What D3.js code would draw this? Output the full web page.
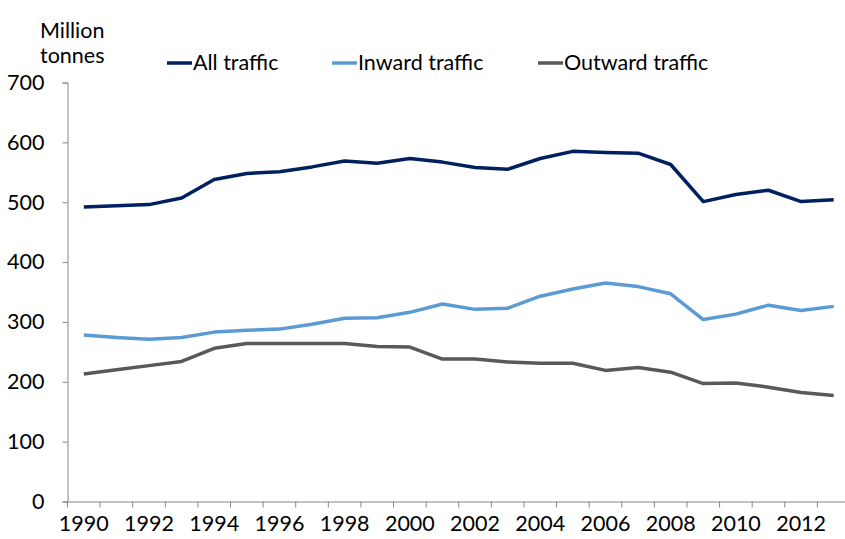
<!DOCTYPE html>
<html>
<head>
<meta charset="utf-8">
<script src="https://cdn.jsdelivr.net/npm/d3@7"></script>
<style>
  body { margin: 0; background: #fff; }
  #chart { width: 845px; height: 539px; }
  text { font-family: Lato, "Open Sans", sans-serif; fill: #000; }
</style>
</head>
<body>
<div id="chart"></div>
<script>
// years 1990-2013, million tonnes
const years = d3.range(1990, 2014);
const allTraffic = [492, 494, 496, 507, 538, 548, 551, 559, 569, 565, 573, 567,
                    558, 555, 573, 585, 583, 582, 563, 501, 513, 520, 501, 504];
const inwardTraffic = [278, 274, 271, 274, 283, 286, 288, 296, 306, 307, 316, 330,
                       321, 323, 343, 355, 365, 359, 347, 304, 313, 328, 319, 326];
const outwardTraffic = [213, 220, 227, 234, 256, 264, 264, 264, 264, 259, 258, 238,
                        238, 233, 231, 231, 219, 224, 216, 197, 198, 191, 182, 177];
const yTicks = [0, 100, 200, 300, 400, 500, 600, 700];

const series = [
    { name: "All traffic", values: allTraffic, color: "#002060", lx: 167 },
    { name: "Inward traffic", values: inwardTraffic, color: "#5b9bd5", lx: 332 },
    { name: "Outward traffic", values: outwardTraffic, color: "#595959", lx: 538 }
];

const width = 845, height = 539;
const fontSize = "21.5px";
const svg = d3.select("#chart").append("svg")
    .attr("width", width)
    .attr("height", height);

// plot area runs a bit past the right edge, like the original
const x = d3.scaleBand().domain(years).range([67.5, 850]);
const y = d3.scaleLinear().domain([0, 700]).range([501.5, 82.5]);
const cx = function(d) { return x(d) + x.bandwidth() / 2; };

const axisColor = "#868686";

// y axis
const yAxis = svg.append("g")
    .attr("transform", "translate(67.5,0)")
    .call(d3.axisLeft(y).tickValues(yTicks).tickSize(5).tickPadding(18));
yAxis.select(".domain").attr("stroke", axisColor);
yAxis.selectAll(".tick line").attr("stroke", axisColor);
yAxis.selectAll("text").attr("font-size", fontSize).attr("fill", "#000")
    .attr("font-family", "Lato");

// x axis: ticks between categories, labels every other year
const xAxis = svg.append("g")
    .attr("transform", "translate(0,501.5)")
    .call(d3.axisBottom(x)
        .tickValues(years.filter(function(d) { return d % 2 === 0; }))
        .tickSize(0).tickPadding(14));
xAxis.select(".domain").attr("stroke", axisColor);
xAxis.selectAll("text").attr("font-size", fontSize).attr("fill", "#000")
    .attr("font-family", "Lato");

svg.append("g").selectAll("line")
    .data(years.concat([null]))
    .enter()
    .append("line")
        .attr("x1", function(d, i) { return 67.5 + i * x.step(); })
        .attr("x2", function(d, i) { return 67.5 + i * x.step(); })
        .attr("y1", 501.5)
        .attr("y2", 507.5)
        .attr("stroke", axisColor);

// lines
const line = d3.line()
    .x(function(d, i) { return cx(years[i]); })
    .y(function(d) { return y(d); });

svg.append("g").selectAll("path")
    .data(series)
    .enter()
    .append("path")
        .attr("d", function(d) { return line(d.values); })
        .attr("fill", "none")
        .attr("stroke", function(d) { return d.color; })
        .attr("stroke-width", 3.5)
        .attr("stroke-linejoin", "round");

// axis title
svg.append("text").attr("x", 40).attr("y", 38).attr("font-size", fontSize).text("Million");
svg.append("text").attr("x", 40).attr("y", 63).attr("font-size", fontSize).text("tonnes");

// legend
const legend = svg.append("g").selectAll("g")
    .data(series)
    .enter()
    .append("g");
legend.append("line")
    .attr("x1", function(d) { return d.lx; })
    .attr("x2", function(d) { return d.lx + 25; })
    .attr("y1", 63)
    .attr("y2", 63)
    .attr("stroke", function(d) { return d.color; })
    .attr("stroke-width", 3.5);
legend.append("text")
    .attr("x", function(d) { return d.lx + 26; })
    .attr("y", 70)
    .attr("font-size", fontSize)
    .text(function(d) { return d.name; });
</script>
</body>
</html>
